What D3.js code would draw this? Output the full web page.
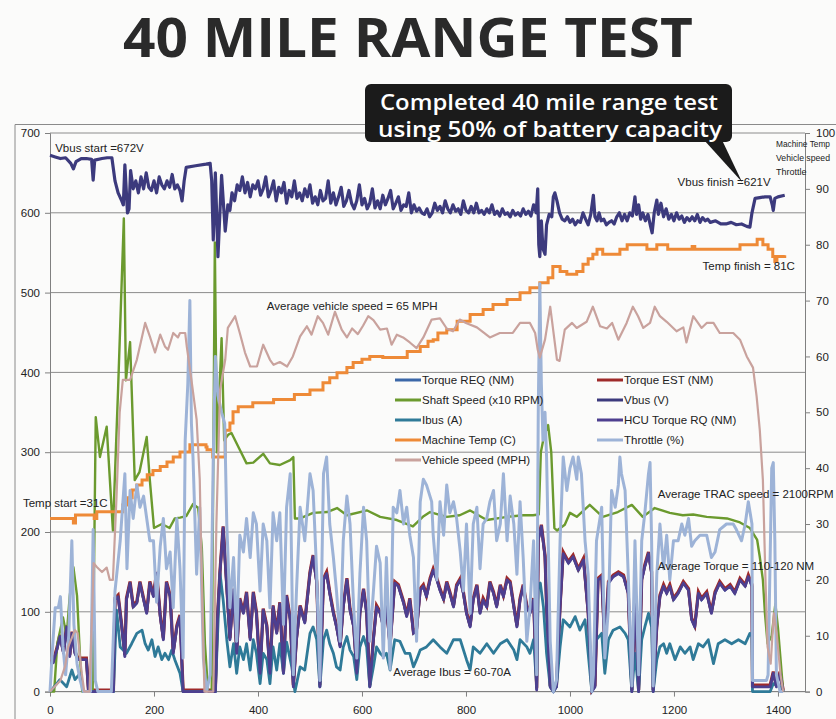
<!DOCTYPE html>
<html><head><meta charset="utf-8">
<script src="https://cdnjs.cloudflare.com/ajax/libs/d3/7.8.5/d3.min.js"></script>
<style>
html,body{margin:0;padding:0;background:#fbfbfa;}
svg{display:block;}
</style></head>
<body>
<script>
// ---------- DATA ----------
const xTicks = [0,200,400,600,800,1000,1200,1400];
const leftTicks = [0,100,200,300,400,500,600,700];
const rightTicks = [0,10,20,30,40,50,60,70,80,90,100];
const rightAxisTitle = ["Machine Temp","Vehicle speed","Throttle"];

// [time, value] readings
const vbus = [[0,672],[10,670],[20,668],[30,669],[40,662],[45,655],[50,664],[60,668],[70,668],[80,667],[83,641],[86,666],[100,668],[110,669],[119,669],[125,640],[131,625],[138,615],[141,610],[144,660],[149,600],[152,605],[155,653],[160,630],[165,640],[170,625],[175,645],[180,630],[185,650],[190,632],[195,628],[200,640],[205,625],[210,645],[215,635],[220,630],[225,640],[230,632],[235,648],[240,630],[245,635],[250,628],[254,615],[258,640],[262,657],[280,659],[300,661],[308,662],[311,640],[314,566],[318,650],[323,545],[330,647],[337,577],[342,610],[346,603],[350,625],[355,615],[360,635],[365,628],[370,645],[375,625],[380,638],[385,620],[390,635],[395,630],[400,640],[405,622],[410,630],[415,645],[420,620],[425,628],[430,640],[435,615],[440,632],[445,625],[450,638],[455,612],[460,628],[465,620],[470,640],[475,618],[480,625],[485,615],[490,630],[495,620],[500,635],[505,612],[510,620],[515,610],[520,628],[525,615],[530,618],[535,640],[540,612],[545,625],[550,610],[555,620],[560,632],[565,608],[570,615],[575,628],[580,612],[585,605],[590,615],[595,635],[600,610],[605,618],[610,605],[615,612],[620,630],[625,606],[630,615],[635,605],[640,622],[645,610],[650,618],[655,628],[660,605],[665,612],[670,620],[675,603],[680,610],[685,608],[690,625],[695,600],[700,610],[705,602],[710,606],[715,600],[720,598],[725,605],[730,595],[735,600],[740,612],[745,603],[750,608],[755,600],[760,615],[765,605],[770,600],[775,610],[780,602],[785,605],[790,598],[795,615],[800,603],[805,600],[810,608],[815,600],[820,612],[825,600],[830,603],[835,598],[840,605],[845,600],[850,610],[855,598],[860,602],[865,596],[870,605],[875,598],[880,600],[885,595],[890,603],[895,597],[900,600],[905,596],[910,605],[915,598],[920,602],[925,596],[930,610],[935,600],[938,630],[940,560],[942,545],[945,590],[948,555],[952,548],[955,585],[960,598],[965,595],[968,620],[971,625],[975,615],[980,600],[985,592],[990,590],[995,595],[1000,588],[1005,592],[1010,585],[1015,590],[1020,588],[1025,600],[1030,592],[1035,585],[1040,598],[1045,622],[1048,595],[1052,590],[1056,600],[1060,590],[1065,592],[1070,585],[1075,588],[1080,590],[1085,586],[1090,595],[1095,600],[1100,590],[1105,598],[1110,590],[1115,600],[1120,596],[1125,620],[1128,598],[1132,610],[1136,592],[1140,600],[1145,590],[1150,598],[1155,583],[1158,575],[1162,600],[1167,616],[1170,598],[1175,612],[1180,595],[1185,605],[1190,592],[1195,598],[1200,590],[1205,600],[1210,592],[1215,596],[1220,588],[1225,594],[1230,590],[1235,595],[1240,590],[1245,598],[1250,588],[1255,594],[1260,590],[1265,592],[1270,588],[1280,590],[1290,586],[1300,586],[1310,588],[1320,585],[1330,586],[1340,583],[1346,582],[1350,600],[1356,618],[1365,619],[1375,620],[1385,620],[1389,610],[1391,603],[1394,618],[1400,620],[1413,622]];

const shaftSpeed = [[0,0],[8,0],[14,60],[25,93],[32,70],[38,120],[45,156],[52,120],[58,40],[62,0],[82,0],[88,344],[96,294],[109,332],[121,202],[131,380],[142,593],[146,390],[154,438],[163,265],[172,275],[186,319],[192,265],[200,205],[215,210],[230,205],[240,217],[250,218],[262,220],[275,235],[285,230],[292,180],[298,60],[304,0],[311,0],[317,563],[321,300],[326,380],[330,443],[335,315],[343,322],[349,324],[365,303],[378,286],[391,287],[410,298],[423,286],[442,284],[462,290],[468,294],[471,217],[481,217],[506,224],[533,225],[552,230],[571,221],[610,227],[635,219],[667,215],[698,207],[717,219],[731,225],[763,219],[788,221],[808,227],[840,215],[879,219],[910,221],[929,221],[940,222],[944,300],[950,320],[958,334],[964,300],[970,205],[975,202],[990,209],[1000,224],[1013,219],[1038,234],[1063,219],[1092,225],[1119,234],[1140,219],[1163,230],[1192,224],[1217,221],[1237,222],[1263,219],[1302,217],[1327,212],[1346,205],[1360,190],[1365,169],[1371,140],[1375,98],[1380,60],[1388,70],[1395,110],[1400,80],[1405,40],[1410,0]];

// Torque REQ, Torque EST and HCU Torque RQ overlap almost exactly
const torqueNm = [[0,36],[6,36],[13,52],[19,69],[26,48],[32,81],[38,44],[42,73],[48,48],[54,40],[61,40],[70,40],[74,0],[122,0],[125,115],[131,119],[138,81],[144,44],[147,115],[154,136],[160,106],[167,111],[173,136],[180,115],[186,98],[192,136],[199,119],[205,148],[212,94],[218,65],[224,136],[231,119],[237,48],[244,81],[250,94],[256,0],[292,0],[318,0],[322,90],[327,150],[333,205],[340,130],[346,65],[353,127],[359,48],[365,115],[372,98],[378,123],[385,65],[391,123],[397,98],[404,23],[410,102],[417,81],[423,23],[429,106],[436,73],[442,110],[449,23],[455,119],[462,90],[468,6],[474,65],[481,106],[490,86],[500,148],[506,169],[513,136],[519,6],[526,140],[532,148],[538,123],[545,98],[551,81],[558,56],[564,106],[571,140],[577,102],[584,81],[590,23],[596,98],[603,127],[609,98],[615,6],[622,65],[628,106],[635,98],[641,81],[647,106],[654,56],[663,136],[670,132],[680,111],[686,94],[692,115],[699,73],[705,77],[712,127],[718,132],[724,119],[731,140],[737,152],[744,140],[750,127],[757,115],[763,136],[769,123],[776,106],[782,132],[789,140],[795,123],[801,98],[808,81],[814,115],[821,132],[827,98],[833,115],[840,106],[846,136],[853,123],[859,106],[866,132],[872,119],[879,140],[885,136],[892,106],[898,81],[904,115],[910,132],[917,106],[923,98],[930,115],[936,2],[939,190],[945,207],[952,169],[955,106],[962,6],[968,0],[974,6],[981,106],[987,173],[997,161],[1006,169],[1016,152],[1026,165],[1035,98],[1042,0],[1048,6],[1054,140],[1061,144],[1067,56],[1074,136],[1083,144],[1093,148],[1103,144],[1112,123],[1119,0],[1125,115],[1132,0],[1138,140],[1144,157],[1151,173],[1157,148],[1160,0],[1167,81],[1173,119],[1180,132],[1186,123],[1192,132],[1199,115],[1208,123],[1218,136],[1228,127],[1234,90],[1240,81],[1247,123],[1253,115],[1263,123],[1272,98],[1279,123],[1288,136],[1298,127],[1308,132],[1317,123],[1327,140],[1337,132],[1343,144],[1350,132],[1351,6],[1378,6],[1385,6],[1391,23],[1397,6],[1404,23],[1410,0]];

const ibus = [[0,0],[13,10],[19,15],[32,6],[42,27],[48,15],[58,23],[64,0],[122,0],[128,102],[135,56],[147,48],[157,60],[167,73],[177,77],[183,60],[189,52],[196,65],[202,44],[208,56],[215,40],[221,48],[228,40],[234,52],[240,40],[250,23],[256,0],[318,0],[324,100],[327,148],[333,115],[340,65],[346,31],[353,60],[359,23],[365,56],[372,40],[378,60],[385,27],[391,65],[397,48],[404,10],[410,48],[417,40],[423,10],[429,56],[436,27],[442,60],[449,23],[455,62],[465,31],[471,0],[481,31],[490,27],[500,73],[506,81],[513,65],[519,6],[526,65],[532,77],[538,60],[545,48],[551,31],[558,27],[564,56],[571,69],[577,52],[584,44],[590,15],[596,56],[603,69],[609,56],[615,6],[622,31],[628,56],[635,48],[641,44],[647,48],[654,27],[663,65],[673,63],[683,48],[692,48],[699,31],[705,40],[712,52],[724,56],[737,65],[750,56],[763,48],[776,65],[789,65],[801,40],[808,27],[814,56],[827,48],[840,60],[853,48],[866,60],[879,65],[892,52],[898,40],[904,65],[917,56],[923,48],[930,65],[936,6],[939,132],[943,136],[949,106],[955,48],[962,6],[968,0],[974,6],[981,56],[987,90],[1000,81],[1010,94],[1019,77],[1029,90],[1035,48],[1042,0],[1051,65],[1061,73],[1067,23],[1074,65],[1083,77],[1096,81],[1106,73],[1112,65],[1119,0],[1125,48],[1132,0],[1138,65],[1144,81],[1151,98],[1157,81],[1160,0],[1167,40],[1173,56],[1180,60],[1186,48],[1192,60],[1202,40],[1212,56],[1221,48],[1231,56],[1237,40],[1247,60],[1256,56],[1266,65],[1276,35],[1285,60],[1298,65],[1311,60],[1324,65],[1337,60],[1346,73],[1350,69],[1351,0],[1385,0],[1391,10],[1404,6],[1410,0]];

// secondary axis series
const machineTemp = [[0,31],[45,30.2],[49,31.6],[85,31],[90,32.2],[140,33.4],[150,34.7],[158,36.1],[167,37],[177,37.9],[187,38.8],[198,39.6],[212,40.3],[225,41.1],[237,42],[250,42.9],[269,44.2],[300,43.8],[302,43.3],[313,42],[330,42],[337,46.8],[346,48.1],[352,50.1],[362,51],[390,51.7],[430,52.3],[470,53.2],[500,54],[525,55.3],[538,56.2],[552,57.1],[571,58],[583,58.9],[600,59.5],[615,60],[640,59.8],[687,60.9],[712,61.8],[727,62.7],[737,63],[746,64.2],[763,64.8],[783,66.3],[808,67.5],[833,68.4],[852,69.3],[879,70.2],[904,71.4],[923,72.3],[942,73.2],[958,74.1],[967,76.1],[981,75.2],[994,74.7],[1013,75.2],[1025,76.5],[1035,77.5],[1044,78.3],[1052,79.2],[1063,78.3],[1096,79.2],[1110,80],[1140,80],[1148,79.2],[1167,80],[1188,79.2],[1235,79.7],[1240,79.2],[1327,80],[1360,81],[1371,80],[1381,79.2],[1390,77.9],[1394,77],[1398,77.9],[1413,78.1]];

const throttle = [[0,0],[5,8],[10,15],[16,15],[20,17],[25,8],[30,3],[36,10],[42,27],[46,12],[52,5],[58,2],[64,0],[78,0],[83,29],[87,2],[92,0],[118,0],[125,18],[135,27],[144,39],[148,22],[154,36],[160,31],[167,37],[173,33],[180,35],[186,31],[192,27],[199,27],[205,16],[212,26],[218,31],[224,22],[231,25],[237,15],[244,31],[250,22],[256,6],[260,45],[265,55],[269,70],[272,48],[275,42],[282,21],[288,33],[295,6],[301,0],[308,3],[314,42],[318,60],[323,53],[330,50],[336,48],[340,30],[346,15],[353,24],[359,9],[365,28],[372,25],[378,31],[385,24],[391,32],[397,30],[404,18],[410,30],[417,27],[423,15],[429,32],[436,27],[442,32],[449,12],[455,33],[462,39],[468,3],[474,18],[481,33],[490,27],[500,39],[506,36],[513,21],[519,2],[526,39],[532,42],[538,30],[545,24],[551,18],[558,9],[564,27],[571,35],[577,30],[584,15],[590,6],[596,21],[603,33],[609,27],[615,9],[622,18],[628,26],[635,23],[641,6],[647,24],[654,4],[660,33],[667,32],[673,36],[680,30],[686,33],[692,28],[699,24],[705,9],[712,34],[718,38],[724,37],[734,34],[737,28],[744,20],[750,34],[757,28],[763,37],[769,32],[776,34],[782,31],[789,25],[795,18],[801,30],[808,14],[814,30],[821,33],[827,22],[833,30],[840,31],[846,34],[853,36],[859,27],[866,30],[872,39],[879,27],[885,35],[892,30],[898,21],[904,34],[910,24],[917,9],[923,15],[930,27],[936,3],[939,50],[942,73],[945,55],[948,45],[952,50],[955,42],[962,9],[968,0],[974,2],[981,27],[987,42],[994,36],[1000,40],[1006,42],[1013,38],[1016,42],[1022,39],[1029,27],[1035,21],[1042,0],[1045,3],[1051,27],[1061,33],[1067,6],[1074,15],[1080,36],[1087,33],[1093,37],[1096,42],[1099,39],[1106,36],[1112,21],[1119,1],[1125,27],[1132,3],[1138,27],[1144,32],[1151,39],[1154,41],[1157,27],[1160,1],[1167,21],[1173,30],[1180,22],[1186,28],[1192,20],[1199,27],[1208,27],[1215,30],[1221,28],[1228,31],[1234,26],[1240,27],[1250,28],[1263,28],[1272,24],[1279,25],[1288,29],[1301,30],[1314,30],[1320,29],[1330,27],[1337,30],[1343,34],[1350,30],[1351,2],[1359,2],[1378,2],[1381,3],[1388,40],[1391,41],[1394,27],[1397,3],[1404,0],[1410,0]];

const vehicleSpeed = [[0,0],[20,2],[29,4.5],[35,8],[48,11],[53,10.5],[61,3.3],[66,0],[76,0],[84,23],[90,22.3],[100,21.4],[109,22.2],[115,20],[121,20],[128,35],[134,50],[140,55.8],[154,55.8],[167,59.4],[183,66],[192,63.6],[202,60.7],[212,63.9],[221,61.8],[227,61.2],[237,64.2],[246,63.4],[250,64.2],[260,64.2],[263,61.8],[272,55.8],[282,48.7],[288,38],[293,15],[297,0],[314,0],[320,30],[327,54],[337,59.4],[342,65.1],[356,67.2],[365,64.2],[375,60.7],[385,58.2],[398,58.2],[410,62.1],[423,59.4],[430,58.5],[442,59],[456,58.2],[467,60],[481,63.6],[494,65.4],[503,63.9],[515,67.2],[525,66],[535,63.9],[548,68],[561,64.8],[571,63.4],[581,65],[592,64],[602,65.5],[612,67.2],[622,66.5],[635,64.8],[648,65],[657,62.1],[667,63.9],[679,63.4],[692,62.5],[705,61.5],[718,63.4],[734,66.6],[750,66.8],[763,65],[775,64.5],[788,66.6],[800,66],[821,65.2],[846,63.4],[865,64.2],[890,64.2],[904,66],[923,66],[933,64.2],[938,61.2],[942,59.8],[952,63],[962,68.9],[975,59.4],[980,59.2],[990,64.8],[1004,66],[1013,65.1],[1032,66.2],[1044,68.9],[1058,65.4],[1071,65],[1081,66],[1093,63],[1109,66],[1121,68.9],[1131,67.2],[1141,65.1],[1154,66],[1163,68.9],[1173,67.2],[1186,66.2],[1205,64.5],[1218,65.2],[1224,62.5],[1237,67.2],[1253,65.1],[1263,66],[1276,66],[1288,64.2],[1314,64.2],[1327,63],[1340,60],[1352,58],[1359,52.8],[1365,46.9],[1371,37.9],[1376,20],[1380,8],[1386,5],[1392,14],[1398,10],[1405,3],[1410,0]];

const legendNames = [
  "Torque REQ (NM)","Torque EST (NM)","Shaft Speed (x10 RPM)","Vbus (V)","Ibus (A)",
  "HCU Torque RQ (NM)","Machine Temp (C)","Throttle (%)","Vehicle speed (MPH)"];

const annotations = [
  {text:"Vbus start =672V", t:10, v:676, axis:"L"},
  {text:"Vbus finish =621V", t:1207, v:634, axis:"L"},
  {text:"Temp finish = 81C", t:1255, v:75.5, axis:"R"},
  {text:"Average vehicle speed = 65 MPH", t:417, v:68.4, axis:"R"},
  {text:"Temp start =31C", t:-52, v:33, axis:"R"},
  {text:"Average TRAC speed = 2100RPM", t:1169, v:243, axis:"L"},
  {text:"Average Torque = 110-120 NM", t:1169, v:152, axis:"L"},
  {text:"Average Ibus = 60-70A", t:660, v:20, axis:"L"}
];

// ---------- DRAW ----------
const W = 836, H = 719;
const svg = d3.select("body").append("svg").attr("width", W).attr("height", H);
svg.append("rect").attr("width",W).attr("height",H).attr("fill","#fbfbfa");

const x = d3.scaleLinear().domain([0,1452]).range([50,805]);
const yL = d3.scaleLinear().domain([0,700]).range([691.6,133]);
const yR = d3.scaleLinear().domain([0,100]).range([691.6,133]);

// chart frame
svg.append("path").attr("d","M15,719 V124.5 H836").attr("fill","none").attr("stroke","#8a8a8a").attr("stroke-width",1);

// gridlines
svg.append("g").selectAll("line").data(leftTicks).join("line")
  .attr("x1",50).attr("x2",805).attr("y1",d=>yL(d)).attr("y2",d=>yL(d))
  .attr("stroke","#8c8c8c").attr("stroke-width",1);

const font = "'Liberation Sans', Arial, sans-serif";
// left axis
const gL = svg.append("g").attr("transform","translate(50,0)")
  .call(d3.axisLeft(yL).tickValues(leftTicks).tickSize(5).tickPadding(5).tickFormat(d3.format("d")));
// bottom axis
const gB = svg.append("g").attr("transform","translate(0,691.6)")
  .call(d3.axisBottom(x).tickValues(xTicks).tickSize(5).tickPadding(9).tickFormat(d3.format("d")));
// right axis
const gR = svg.append("g").attr("transform","translate(805,0)")
  .call(d3.axisRight(yR).tickValues(rightTicks).tickSize(5).tickPadding(6).tickFormat(d3.format("d")));
[gL,gB,gR].forEach(g=>{
  g.selectAll("path").attr("stroke","#808080").attr("stroke-width",1);
  g.selectAll("line").attr("stroke","#808080");
  g.selectAll("text").attr("font-family",font).attr("font-size",11.5).attr("fill","#222");
});
gB.select(".domain").remove();
svg.append("line").attr("x1",50).attr("x2",805).attr("y1",691.6).attr("y2",691.6).attr("stroke","#808080");

// right axis title (shrunk to fit inside the frame)
const titleLen = {"Machine Temp":54, "Vehicle speed":54};
svg.append("g").selectAll("text").data(rightAxisTitle).join("text")
  .attr("x",776).attr("y",(d,i)=>147+i*14).attr("font-family",font).attr("font-size",9)
  .attr("fill","#222")
  .each(function(d){ if (titleLen[d]) d3.select(this).attr("textLength",titleLen[d]).attr("lengthAdjust","spacingAndGlyphs"); })
  .text(d=>d);

// series
const plot = svg.append("g");
function lineL(){ return d3.line().x(d=>x(d[0])).y(d=>yL(d[1])).curve(d3.curveLinear); }
function lineR(){ return d3.line().x(d=>x(d[0])).y(d=>yR(d[1])).curve(d3.curveLinear); }

const C = {
  req:"#3b67a8", est:"#9e2a2a", shaft:"#6b9a2e", vbus:"#3c3a7d", ibus:"#2f7a98",
  hcu:"#4d3f8f", temp:"#ee8a37", thr:"#9db3d7", spd:"#c9a29d"
};

plot.append("path").datum(torqueNm).attr("d",lineL()).attr("fill","none").attr("stroke",C.req).attr("stroke-width",2.5);
plot.append("path").datum(torqueNm).attr("d",lineL()).attr("fill","none").attr("stroke",C.est).attr("stroke-width",3.2).attr("transform","translate(0,-1.6)");
plot.append("path").datum(shaftSpeed).attr("d",lineL()).attr("fill","none").attr("stroke",C.shaft).attr("stroke-width",2.4).attr("stroke-linejoin","round");
plot.append("path").datum(vbus).attr("d",lineL()).attr("fill","none").attr("stroke",C.vbus).attr("stroke-width",3.2).attr("stroke-linejoin","round");
plot.append("path").datum(ibus).attr("d",lineL()).attr("fill","none").attr("stroke",C.ibus).attr("stroke-width",2.8).attr("stroke-linejoin","round");
plot.append("path").datum(torqueNm).attr("d",lineL()).attr("fill","none").attr("stroke",C.hcu).attr("stroke-width",2.8).attr("stroke-linejoin","round");
plot.append("path").datum(machineTemp).attr("d",lineR().curve(d3.curveStepAfter)).attr("fill","none").attr("stroke",C.temp).attr("stroke-width",3);
plot.append("path").datum(throttle).attr("d",lineR()).attr("fill","none").attr("stroke",C.thr).attr("stroke-width",3).attr("stroke-linejoin","round");
plot.append("path").datum(vehicleSpeed).attr("d",lineR()).attr("fill","none").attr("stroke",C.spd).attr("stroke-width",2.2).attr("stroke-linejoin","round");

// legend
const legendColors = [C.req,C.est,C.shaft,C.vbus,C.ibus,C.hcu,C.temp,C.thr,C.spd];
const lg = svg.append("g");
legendNames.forEach((name,i)=>{
  const col = i%2, row = Math.floor(i/2);
  const lx = col===0 ? 395 : 597, ly = 380 + row*20;
  lg.append("line").attr("x1",lx).attr("x2",lx+26).attr("y1",ly).attr("y2",ly)
    .attr("stroke",legendColors[i]).attr("stroke-width",3);
  lg.append("text").attr("x",lx+27).attr("y",ly+4).attr("font-family",font).attr("font-size",11.5)
    .attr("fill","#222").text(name);
});

// annotations
svg.append("g").selectAll("text").data(annotations).join("text")
  .attr("x",d=>x(d.t)).attr("y",d=>(d.axis==="L"?yL(d.v):yR(d.v)))
  .attr("font-family",font).attr("font-size",11.5).attr("fill","#222").text(d=>d.text);

// title
svg.append("text").attr("x",408).attr("y",57).attr("text-anchor","middle")
  .attr("font-family","'Open Sans', sans-serif").attr("font-weight",700).attr("font-size",54)
  .attr("fill","#2a2a2a").attr("textLength",570).attr("lengthAdjust","spacingAndGlyphs")
  .text("40 MILE RANGE TEST");

// callout
const co = svg.append("g");
co.append("path").attr("d","M704,140 L742,182 L722,140 Z").attr("fill","#1b1b1b");
co.append("rect").attr("x",365).attr("y",84).attr("width",367).attr("height",58).attr("rx",6).attr("fill","#1b1b1b");
co.append("text").attr("x",549).attr("y",110).attr("text-anchor","middle").attr("font-family","'Open Sans', sans-serif")
  .attr("font-weight",600).attr("font-size",22).attr("fill","#fff").attr("textLength",338).attr("lengthAdjust","spacingAndGlyphs")
  .text("Completed 40 mile range test");
co.append("text").attr("x",550).attr("y",137).attr("text-anchor","middle").attr("font-family","'Open Sans', sans-serif")
  .attr("font-weight",600).attr("font-size",22).attr("fill","#fff").attr("textLength",344).attr("lengthAdjust","spacingAndGlyphs")
  .text("using 50% of battery capacity");
</script>
</body></html>
